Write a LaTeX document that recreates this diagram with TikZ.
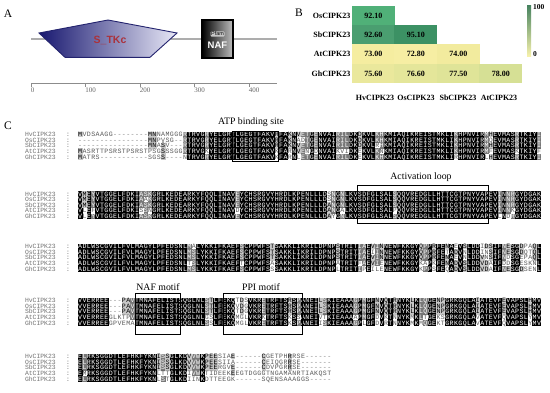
\documentclass[tikz,border=0pt]{standalone}
\usepackage{fontspec}
\setmainfont{Liberation Serif}
\newfontfamily\seqfont{Liberation Mono}
\newfontfamily\sansfont{Liberation Sans}

\definecolor{alngap}{gray}{0.5}
\definecolor{alnlow}{gray}{0.35}
\definecolor{alnlt}{gray}{0.78}
\definecolor{alndk}{gray}{0.47}
\definecolor{hmA}{RGB}{80,176,120}
\definecolor{hmB}{RGB}{74,158,112}
\definecolor{hmC}{RGB}{60,145,100}
\definecolor{hmD}{RGB}{245,237,160}
\definecolor{hmE}{RGB}{246,238,163}
\definecolor{hmF}{RGB}{242,235,158}
\definecolor{hmG}{RGB}{234,232,156}
\definecolor{hmH}{RGB}{228,230,154}
\definecolor{hmI}{RGB}{223,228,152}
\definecolor{hmJ}{RGB}{214,224,149}
\definecolor{cbtop}{RGB}{70,130,95}
\definecolor{cbmid}{RGB}{222,228,160}
\definecolor{cbbot}{RGB}{246,241,172}
\definecolor{domdark}{RGB}{24,24,112}
\definecolor{domlight}{RGB}{232,232,246}
\definecolor{domline}{RGB}{35,35,110}
\definecolor{domtext}{RGB}{170,50,60}

\newdimen\alnw \alnw=4.37bp
\newdimen\alnwp \alnwp=4.52bp
\newcommand\alnrule[1]{{\color{#1}\vrule width\alnwp height5.0bp depth0.72bp}\kern-\alnwp}
\newcommand\alncell[2]{\hbox to\alnw{\ifcase#1\relax\color{alngap}\or\color{alnlow}\or\alnrule{alnlt}\color{black}\or\alnrule{alndk}\color{white}\or\alnrule{black}\color{white}\fi\hss#2\hss}}
\newcommand\alnname[1]{\ifcase#1\relax\or HvCIPK23\or OsCIPK23\or SbCIPK23\or AtCIPK23\or GhCIPK23\fi}
\newcount\alnrc
\newcommand\alnrow[3]{%
  \global\advance\alnrc by 1
  \node[seqname] (nm\the\alnrc) at (25,{#1}) {\hbox to 45bp{\alnname{#2}\hfil:}};
  \node[seqrow] (sq\the\alnrc) at (78,{#1}) {#3};
}

\ExplSyntaxOn
\int_new:N \l__aln_i_int
\int_new:N \l__aln_len_int
\int_new:N \l__aln_cnt_int
\int_new:N \l__aln_lev_int
\tl_new:N \l__aln_c_tl
\tl_new:N \l__aln_row_tl
\tl_new:N \l__aln_r_tl
\tl_new:N \l__aln_j_tl
\tl_new:N \l__aln_k_tl
\cs_new_protected:Npn \__aln_store:nn #1#2
  {
    \int_zero:N \l__aln_i_int
    \str_map_inline:nn {#2}
      {
        \int_incr:N \l__aln_i_int
        \tl_set:cn { l__aln_ #1 _ \int_use:N \l__aln_i_int _tl } {##1}
      }
    \int_compare:nNnT { \l__aln_i_int } > { \l__aln_len_int }
      { \int_set_eq:NN \l__aln_len_int \l__aln_i_int }
  }
\cs_new_protected:Npn \aln_block:nnnnnn #1#2#3#4#5#6
  {
    \int_step_inline:nn {5}
      { \int_step_inline:nn {120} { \tl_set:cn { l__aln_ ##1 _ ####1 _tl } { } } }
    \int_zero:N \l__aln_len_int
    \__aln_store:nn {1} {#2}
    \__aln_store:nn {2} {#3}
    \__aln_store:nn {3} {#4}
    \__aln_store:nn {4} {#5}
    \__aln_store:nn {5} {#6}
    \int_step_variable:nnNn {1} {5} \l__aln_r_tl
      {
        \tl_clear:N \l__aln_row_tl
        \int_step_variable:nnNn {1} { \l__aln_len_int } \l__aln_j_tl
          {
            \tl_set_eq:Nc \l__aln_c_tl { l__aln_ \l__aln_r_tl _ \l__aln_j_tl _tl }
            \int_zero:N \l__aln_cnt_int
            \int_step_variable:nnNn {1} {5} \l__aln_k_tl
              {
                \tl_if_eq:NcT \l__aln_c_tl { l__aln_ \l__aln_k_tl _ \l__aln_j_tl _tl }
                  { \int_incr:N \l__aln_cnt_int }
              }
            \tl_if_empty:NTF \l__aln_c_tl
              { \int_set:Nn \l__aln_lev_int { -1 } }
              {
                \str_if_eq:VnTF \l__aln_c_tl { - }
                  { \int_set:Nn \l__aln_lev_int { 0 } }
                  {
                    \int_case:nnF { \l__aln_cnt_int }
                      {
                        { 5 } { \int_set:Nn \l__aln_lev_int { 4 } }
                        { 4 } { \int_set:Nn \l__aln_lev_int { 3 } }
                        { 3 } { \int_set:Nn \l__aln_lev_int { 2 } }
                      }
                      { \int_set:Nn \l__aln_lev_int { 1 } }
                  }
              }
            \int_compare:nNnF { \l__aln_lev_int } < { 0 }
              {
                \tl_put_right:Nx \l__aln_row_tl
                  {
                    \exp_not:N \alncell
                      { \int_use:N \l__aln_lev_int }
                      { \exp_not:V \l__aln_c_tl }
                  }
              }
          }
        \alnrow { #1 + 2.15 + ( \l__aln_r_tl - 1 ) * 5.6 } { \l__aln_r_tl } { \l__aln_row_tl }
      }
  }
\cs_set_eq:NN \alnblock \aln_block:nnnnnn
\ExplSyntaxOff

\tikzset{
  seqrow/.style={anchor=base west, inner sep=0pt, outer sep=0pt, font=\seqfont\fontsize{6.6bp}{6.6bp}\selectfont},
  seqname/.style={anchor=base west, inner sep=0pt, outer sep=0pt, text=black!55, font=\seqfont\fontsize{6.4bp}{6.4bp}\selectfont},
  panel/.style={inner sep=0pt, font=\fontsize{11.5bp}{11.5bp}\selectfont},
  motiflab/.style={inner sep=0pt, font=\fontsize{9.8bp}{9.8bp}\selectfont},
  motifbox/.style={draw=black, line width=0.6bp},
  hm/.style={inner sep=0pt, outer sep=0pt, minimum width=42.8bp, minimum height=19.5bp, font=\bfseries\fontsize{8bp}{8bp}\selectfont},
  hmlab/.style={inner sep=0pt, font=\bfseries\fontsize{8bp}{8bp}\selectfont},
  axlab/.style={anchor=west, inner sep=0pt, text=black!60, font=\fontsize{7bp}{7bp}\selectfont},
  axisline/.style={draw=black!45, line width=0.6bp},
  track/.style={draw=black!32, line width=2.6bp}
}

\begin{document}
\begin{tikzpicture}[x=1bp,y=-1bp]
\useasboundingbox (0,0) rectangle (550,392);
\fill[white] (0,0) rectangle (550,392);

% ---------------- Panel A ----------------
\node[panel] (pA) at (8,14) {A};
\coordinate (trs) at (31,39);
\coordinate (tre) at (277,39);
\draw[track] (trs) -- (tre);
\shadedraw[left color=domdark, right color=domlight, draw=domline, line width=0.9bp]
  (39,33) -- (108,20) -- (177,33) -- (150,57.3) -- (65,57.3) -- cycle;
\node[inner sep=0pt, text=domtext, font=\sansfont\bfseries\fontsize{10.5bp}{10.5bp}\selectfont] (stkc) at (110,40) {S\_TKc};
\shadedraw[left color=black, right color=black!25, draw=black, line width=1.2bp] (202,20) rectangle (233,58);
\node[inner sep=0.7bp, rounded corners=1bp, fill=black!22, text=black, font=\sansfont\fontsize{5.4bp}{5.4bp}\selectfont] (pfam) at (217.5,34) {Pfam};
\node[inner sep=0pt, text=white, font=\sansfont\bfseries\fontsize{9.5bp}{9.5bp}\selectfont] (naflab) at (217.5,45.5) {NAF};
\coordinate (axs) at (31,83);
\coordinate (axe) at (277,83);
\draw[axisline] (axs) -- (axe);
\foreach \v/\x in {0/31,100/85.5,200/140,300/194.5,400/249}{
  \draw[axisline] (\x,83) -- (\x,86.5);
  \node[axlab] (ax\v) at (\x-0.3,90) {\v};
}

% ---------------- Panel B ----------------
\node[panel] (pB) at (299,13) {B};
\node[hm, fill=hmA] (c11) at (373.25,15.6) {92.10};
\node[hm, fill=hmB] (c21) at (373.25,34.9) {92.60};
\node[hm, fill=hmC] (c22) at (415.75,34.9) {95.10};
\node[hm, fill=hmD] (c31) at (373.25,54.1) {73.00};
\node[hm, fill=hmE] (c32) at (415.75,54.1) {72.80};
\node[hm, fill=hmF] (c33) at (458.25,54.1) {74.00};
\node[hm, fill=hmG] (c41) at (373.25,73.4) {75.60};
\node[hm, fill=hmH] (c42) at (415.75,73.4) {76.60};
\node[hm, fill=hmI] (c43) at (458.25,73.4) {77.50};
\node[hm, fill=hmJ] (c44) at (500.75,73.4) {78.00};
\node[hmlab, anchor=east] (rl1) at (350.5,15.6) {OsCIPK23};
\node[hmlab, anchor=east] (rl2) at (350.5,34.9) {SbCIPK23};
\node[hmlab, anchor=east] (rl3) at (350.5,54.1) {AtCIPK23};
\node[hmlab, anchor=east] (rl4) at (350.5,73.4) {GhCIPK23};
\node[hmlab] (cl1) at (375,97.5) {HvCIPK23};
\node[hmlab] (cl2) at (416,97.5) {OsCIPK23};
\node[hmlab] (cl3) at (458,97.5) {SbCIPK23};
\node[hmlab] (cl4) at (499,97.5) {AtCIPK23};
\shade[top color=cbtop, middle color=cbmid, bottom color=cbbot] (527,5) rectangle (531,56);
\node[hmlab, anchor=west, font=\bfseries\fontsize{7.5bp}{7.5bp}\selectfont] (cb100) at (533,7.5) {100};
\node[hmlab, anchor=west, font=\bfseries\fontsize{7.5bp}{7.5bp}\selectfont] (cb0) at (533,54) {0};

% ---------------- Panel C ----------------
\node[panel] (pC) at (8,126) {C};

\alnblock{134.5}
{MVDSAAGG--------MNNAMGGGRTRVGRYELGRTLGEGTFAKVRFAKNVETGENVAIRILDKDKVLKHKMIAQIKREISTMKLIKHPNVIRMHEVMASRTKIYI}
{----------------MNPVSG--RTRVGRYELGRTLGEGTFAKVRFAKNADTGENVAIRILDKDKVLKHKMIAQIKREISTMKLIKHPNVIRMQEVMASRTKIYI}
{----------------MNASV---RTRVGRYELGRTLGEGTFAKVRFAKNVETGENVAIRILDKDKVLRHKMIAQIKREISTMKLIKHPNVIRMHEVMASRTKIYI}
{MASRTTPSRSTPSRSTPSGSSSGGRTRVGKYELGRTLGEGTFAKVKFARNVENGDNVAIKVIDKEKVLKNKMIAQIKREISTMKLIKHPNVIRMFEVMASKTKIYF}
{MATRS-----------SGSS----NTRVGRYELGRTLGEGTFAKVKFARNLETGENVAIRILDKEKVLKHKMIAQIKREISTMKLIRHPNVIRLHEVMASRTKIYI}

\alnblock{194}
{VMEYVTGGELFDKIASKGRLKEDEARKYFQQLINAVEYCHSRGVYHRDLKPENLLLDSNGNLKVSDFGLSALSQQVREDGLLHTTCGTPNYVAPEVINNRGYDGAK}
{VMEYVTGGELFDKIAAKGRLKEDEARKYFQQLINAVEYCHSRGVYHRDLKPENLLLDSNGNLKVSDFGLSALSQQVREDGLLHTTCGTPNYVAPEVINNRGYDGAK}
{VMEYVTGGELFDKIASKGRLKEDEARKYFQQLINAVEYCHSRGVYHRDLKPENLLLDANGNLKVSDFGLSALSQQVREDGLLHTTCGTPNYVAPEVINNRGYDGAK}
{VLEFVTGGELFDKISSNGRLKEDEARKYFQQLINAVDYCHSRGVYHRDLKPENLLLDANGALKVSDFGLSALPQQVREDGLLHTTCGTPNYVAPEVINNKGYDGAK}
{VLEYVTGGELFDKIASKGRLKEDEARKYFQQLINAVEYCHSRGVYHRDLKPENLLLDAYGNLKVSDFGLSALSQQVREDGLLHTTCGTPNYVAPEVLNDRGYDGAK}

\alnblock{246.5}
{ADLWSCGVILFVLMAGYLPFEDSNLMALYKKIFKAEFSCPPWFSTSAKKLIKRILDPNPSTRITIAEVINNEWFKKGYQPPRFENAEVSLDDIDSIFNESGDPAQL}
{ADLWSCGVILFVLMAGYLPFEDSNLMSLYKKIFKAEFSCPPWFSTSAKKLIKRILDPNPSTRITIAEIINNEWFKKGYQPPRFETADVNLDDINSIFNESGDQTQL}
{ADLWSCGVILFVLMAGYLPFEDSNLMSLYKKIFKAEFSCPPWFSTSAKKLIKRILDPNPSTRITIAEVINNEWFKKGYQPPRFENAEVNLDDVNSIFNDSGEPAQL}
{ADLWSCGVILFVLMAGYLPFEDSNLTSLYKKIFKAEFTCPPWFSASAKKLIKRILDPNPATRITFAEVIENEWFKKGYKAPKFENADVSLDDVDAIFDDSGESKNL}
{ADLWSCGVILFVLMAGYLPFEDSNLMSLYKKIFKAEFSCPPWFSSSAKKLIKRILDPNPLTRITIPEILENEWFKKGYKPPSFEQADVSLDDVDAIFNESGDSENL}

\alnblock{300.5}
{VVERREE---PAVTMNAFELISTSQGLNLSTLFEKQTDSVKRETRFTSRSPANEILSKIEAAAGPMGFNVQTRNYKLKLQGENPGRKGQLAIATEVFEVAPSLHMV}
{VVERREE---PAVTMNAFELISTSQGLNLSTLFEKQVDGVKRETRFTSRSPANEILSKIEAAAGPMGFNVQTRNYKLKLQGENPGRKGQLAIATEVFEVAPSLHMV}
{VVERREE---PAVTMNAFELISTSQGLNLSTLFEKQTDGVKRETRFTSRSPANEILSKIEAAAGPMGFNVQTRNYKLKLQGENPGRKGQLAIATEVFEVAPSLHMV}
{VVERREEGLKTPVTMNAFELISTSQGLNLGSLFEKQMGLVKRKTRFTSKSSANEIVTKIEAAAAPMGFDVKTNNYKMKLTGEKSGRKGQLAVATEVFQVAPSLYMV}
{VVERREEGPVEMATMNAFELISTSQGLNLSSLFEKQMGLVKRETRFTSKSPANEIISKIEAAAGPLGFDVRTNNYKMKMQGEKTGRKGQLAVATEVFQVAPSLYMV}

\alnblock{356.5}
{ELRKSGGDTLEFHKFYKNISSGLKDVVWKPEESIAE------CGETPHRRSE------}
{ELRKSGGDTLEFHKFYKNISSGLKDVVWKPEESIIA------CEIQGRRSE-------}
{ELRKSGGDTLEFHKFYKNISSGLKDVVWKPEERGVE------CDVPGRRSE-------}
{EMRKSGGDTLEFHKFYKNLTTGLKDIVWKTIDEEKEEGTDGGGTNGAMANRTIAKQST}
{ELRKSGGDTLEFHKFYKNLSTGLKDIINKDTTEEGK------SQENSAAAGGS-----}

% motif boxes and labels
\node[motiflab] (atp) at (251,122) {ATP binding site};
\draw[motifbox] (232,131) rectangle (278,161);
\node[motiflab] (act) at (421,177) {Activation loop};
\draw[motifbox] (357,185) rectangle (488,223);
\node[motiflab] (naf) at (158,287.5) {NAF motif};
\draw[motifbox] (135,293) rectangle (180,334);
\node[motiflab] (ppi) at (261,287.5) {PPI motif};
\draw[motifbox] (223,293) rectangle (302,334);
\end{tikzpicture}
\end{document}
